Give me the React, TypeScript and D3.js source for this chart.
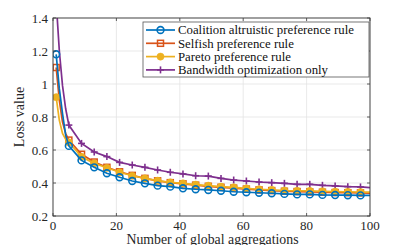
import React from "react";
import * as d3 from "d3";

const xValues = [1, 2, 3, 4, 5, 9, 13, 17, 21, 25, 29, 33, 37, 41, 45, 49, 53, 57, 61, 65, 69, 73, 77, 81, 85, 89, 93, 97, 100];
const coalition = [1.18, 0.97, 0.82, 0.69, 0.625, 0.537, 0.495, 0.459, 0.435, 0.412, 0.398, 0.384, 0.378, 0.368, 0.362, 0.358, 0.353, 0.347, 0.344, 0.341, 0.338, 0.334, 0.331, 0.331, 0.328, 0.327, 0.326, 0.325, 0.325];
const selfish = [1.1, 0.9, 0.77, 0.7, 0.66, 0.574, 0.527, 0.495, 0.468, 0.446, 0.428, 0.413, 0.402, 0.395, 0.387, 0.38, 0.374, 0.369, 0.363, 0.358, 0.354, 0.35, 0.348, 0.346, 0.344, 0.342, 0.341, 0.34, 0.339];
const pareto = [0.92, 0.78, 0.7, 0.665, 0.647, 0.559, 0.519, 0.492, 0.465, 0.444, 0.428, 0.414, 0.404, 0.398, 0.39, 0.384, 0.378, 0.374, 0.367, 0.362, 0.358, 0.354, 0.353, 0.352, 0.35, 0.348, 0.347, 0.345, 0.345];
const bandwidth = [1.5, 1.2, 0.99, 0.85, 0.751, 0.64, 0.588, 0.56, 0.525, 0.509, 0.495, 0.479, 0.465, 0.455, 0.444, 0.442, 0.428, 0.418, 0.412, 0.406, 0.402, 0.398, 0.392, 0.392, 0.386, 0.382, 0.378, 0.376, 0.372];
const seriesNames = ["Coalition altruistic preference rule", "Selfish preference rule", "Pareto preference rule", "Bandwidth optimization only"];
const seriesColors = ["#0072BD", "#D95319", "#EDB120", "#7E2F8E"];
const seriesMarkers = ["circle", "square", "dot", "plus"];
const xTicks = [0, 20, 40, 60, 80, 100];
const yTicks = [0.2, 0.4, 0.6, 0.8, 1.0, 1.2, 1.4];

const W = 409, H = 245;
const L = 53, R = 370, T = 18, B = 216;
const FONT = "Liberation Serif";

function Marker({ type, x, y, color }: { type: string; x: number; y: number; color: string }) {
  if (type === "circle") return <circle cx={x} cy={y} r={3.4} fill="none" stroke={color} strokeWidth={1.6} />;
  if (type === "square") return <rect x={x - 3} y={y - 3} width={6} height={6} fill="none" stroke={color} strokeWidth={1.5} />;
  if (type === "dot") return <circle cx={x} cy={y} r={3.6} fill={color} stroke={color} strokeWidth={0.5} />;
  return (
    <g stroke={color} strokeWidth={1.6}>
      <line x1={x - 3.5} x2={x + 3.5} y1={y} y2={y} />
      <line x1={x} x2={x} y1={y - 3.5} y2={y + 3.5} />
    </g>
  );
}

export default function App() {
  const x = d3.scaleLinear().domain([0, 100]).range([L, R]);
  const y = d3.scaleLinear().domain([0.2, 1.4]).range([B, T]);
  const all = [coalition, selfish, pareto, bandwidth];
  const line = d3.line<number>().x((_, i) => x(xValues[i])).y((d) => y(d));
  const axisColor = "#3a3a3a";
  const order = [3, 1, 2, 0];
  const ts = { fontFamily: FONT };
  return (
    <svg width={W} height={H} style={{ position: "absolute", left: 0, top: 0, background: "#fff" }}>
      <defs>
        <clipPath id="plot">
          <rect x={L} y={T} width={R - L} height={B - T} />
        </clipPath>
      </defs>
      <rect x={0} y={0} width={W} height={H} fill="#fff" />
      {xTicks.map((t) => (
        <line key={"gx" + t} x1={x(t)} x2={x(t)} y1={T} y2={B} stroke="#e3e3e3" strokeWidth={0.8} />
      ))}
      {yTicks.map((t) => (
        <line key={"gy" + t} x1={L} x2={R} y1={y(t)} y2={y(t)} stroke="#e3e3e3" strokeWidth={0.8} />
      ))}
      <g clipPath="url(#plot)">
        {order.map((si) => (
          <g key={si}>
            <path d={line(all[si]) || ""} fill="none" stroke={seriesColors[si]} strokeWidth={1.7} />
            {xValues.map((xv, i) =>
              (xv - 1) % 4 === 0 ? (
                <Marker key={i} type={seriesMarkers[si]} x={x(xv)} y={y(all[si][i])} color={seriesColors[si]} />
              ) : null
            )}
          </g>
        ))}
      </g>
      <rect x={L} y={T} width={R - L} height={B - T} fill="none" stroke={axisColor} strokeWidth={0.9} />
      {xTicks.map((t) => (
        <g key={"tx" + t}>
          <line x1={x(t)} x2={x(t)} y1={B} y2={B - 3} stroke={axisColor} strokeWidth={0.8} />
          <line x1={x(t)} x2={x(t)} y1={T} y2={T + 3} stroke={axisColor} strokeWidth={0.8} />
          <text x={x(t)} y={B + 13.5} textAnchor="middle" fontSize={13} fill="#262626" style={ts}>
            {t}
          </text>
        </g>
      ))}
      {yTicks.map((t) => (
        <g key={"ty" + t}>
          <line x1={L} x2={L + 3} y1={y(t)} y2={y(t)} stroke={axisColor} strokeWidth={0.8} />
          <line x1={R} x2={R - 3} y1={y(t)} y2={y(t)} stroke={axisColor} strokeWidth={0.8} />
          <text x={L - 5} y={y(t) + 4.5} textAnchor="end" fontSize={13} fill="#262626" style={ts}>
            {d3.format("~g")(t)}
          </text>
        </g>
      ))}
      <text x={(L + R) / 2 + 1} y={243.5} textAnchor="middle" fontSize={13.8} fill="#262626" style={ts}>
        Number of global aggregations
      </text>
      <text transform={`translate(24,${(T + B) / 2}) rotate(-90)`} textAnchor="middle" fontSize={14} fill="#262626" style={ts}>
        Loss value
      </text>
      <rect x={143} y={22} width={226} height={55} fill="#fff" stroke="#555" strokeWidth={0.8} />
      {seriesNames.map((name, i) => {
        const ly = 30 + i * 13.3;
        return (
          <g key={name}>
            <line x1={146} x2={175} y1={ly} y2={ly} stroke={seriesColors[i]} strokeWidth={1.7} />
            <Marker type={seriesMarkers[i]} x={160.5} y={ly} color={seriesColors[i]} />
            <text x={178} y={ly + 4.4} fontSize={12.8} fill="#111" style={ts}>
              {name}
            </text>
          </g>
        );
      })}
    </svg>
  );
}
